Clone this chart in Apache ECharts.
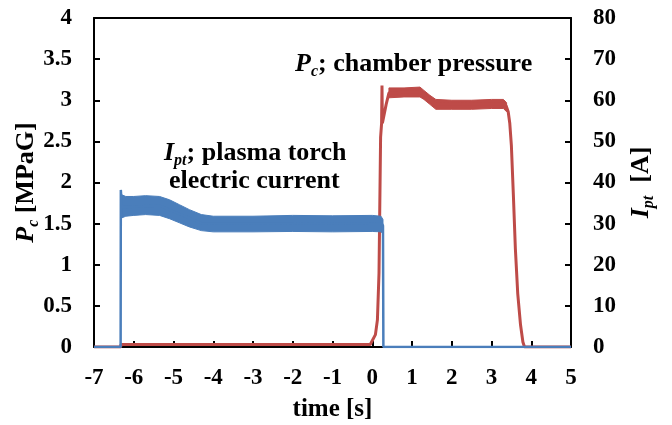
<!DOCTYPE html>
<html>
<head>
<meta charset="utf-8">
<script src="https://cdn.jsdelivr.net/npm/echarts@6/dist/echarts.min.js"></script>
<style>
html,body{margin:0;padding:0;background:#fff;}
#c{width:672px;height:425px;}
</style>
</head>
<body>
<div id="c"></div>
<script>
// ---- data ----
// time axis ticks
var xTicks = [-7, -6, -5, -4, -3, -2, -1, 0, 1, 2, 3, 4, 5];
// Chamber pressure P_c [MPaG] – centre trace
var redT = [-7, -6.33, -6.32, -3, -0.05, 0.0, 0.08, 0.13, 0.17, 0.21, 0.235, 0.245, 0.255, 0.29, 0.35, 0.42, 1.2, 1.3, 1.45, 1.6, 3.3, 3.37, 3.42, 3.46, 3.50, 3.55, 3.60, 3.66, 3.73, 3.79, 3.83, 5];
var redP = [0, 0, 0.03, 0.03, 0.03, 0.05, 0.15, 0.33, 0.9, 2.55, 2.72, 3.18, 2.72, 2.72, 2.95, 3.09, 3.1, 3.07, 3.0, 2.95, 2.955, 2.93, 2.86, 2.72, 2.45, 1.85, 1.2, 0.65, 0.27, 0.06, 0, 0];
// Chamber pressure noise envelope
var redBandT = [0.42, 0.8, 1.2, 1.3, 1.45, 1.6, 2.0, 2.5, 3.0, 3.3, 3.38];
var redLow   = [3.03, 3.04, 3.04, 3.01, 2.95, 2.89, 2.89, 2.89, 2.90, 2.90, 2.86];
var redHigh  = [3.15, 3.15, 3.16, 3.12, 3.06, 3.01, 3.00, 3.00, 3.01, 3.01, 2.97];
// Plasma torch current I_pt [A] – centre trace
var blueT = [-7, -6.33, -6.325, -6.30, -6.25, -5.35, -4.3, 0.24, 0.27, 0.28, 5];
var blueI = [0, 0, 38.2, 34.0, 34.4, 34.4, 30.1, 30.0, 29.5, 0, 0];
// Plasma torch current noise envelope
var blueBandT = [-6.30, -6.2, -6.0, -5.7, -5.35, -5.1, -4.85, -4.6, -4.3, -4.0, -3.0, -2.0, -1.0, 0.0, 0.22, 0.27];
var blueLow   = [31.4, 31.8, 32.0, 32.2, 32.0, 31.2, 30.2, 29.2, 28.3, 28.0, 28.0, 28.1, 28.0, 28.1, 28.0, 27.6];
var blueHigh  = [37.0, 36.6, 36.6, 36.8, 36.6, 35.8, 34.6, 33.4, 32.2, 31.8, 31.8, 32.0, 31.9, 32.0, 31.8, 31.0];

var RED = '#BE4B48', BLUE = '#4A7EBB';
var FF = 'Liberation Serif';

function pairs(xs, ys) { return xs.map(function (x, i) { return [x, ys[i]]; }); }

function bandSeries(ts, lo, hi, color, yIdx, z) {
  return {
    type: 'custom', yAxisIndex: yIdx, z: z, silent: true,
    data: ts.map(function (t, i) { return [t, lo[i], hi[i]]; }),
    encode: {x: 0, y: [1, 2]},
    renderItem: function (params, api) {
      if (params.dataIndex !== 0) return null;
      var pts = [];
      for (var i = 0; i < ts.length; i++) pts.push(api.coord([ts[i], hi[i]]));
      for (var j = ts.length - 1; j >= 0; j--) pts.push(api.coord([ts[j], lo[j]]));
      return {type: 'polygon', shape: {points: pts},
              style: {fill: color, stroke: color, lineWidth: 1}};
    }
  };
}

var tickFont = {fontFamily: FF, fontWeight: 'bold', fontSize: 23, color: '#000'};
var BIG = 26;
var rich = {
  i: {fontFamily: FF, fontWeight: 'bold', fontStyle: 'italic', fontSize: BIG, color: '#000', lineHeight: 32},
  s: {fontFamily: FF, fontWeight: 'bold', fontStyle: 'italic', fontSize: 16, color: '#000', lineHeight: 32, verticalAlign: 'bottom'},
  b: {fontFamily: FF, fontWeight: 'bold', fontSize: BIG, color: '#000', lineHeight: 32}
};

var chart = echarts.init(document.getElementById('c'), null, {renderer: 'canvas'});
var option = {
  animation: false,
  backgroundColor: '#fff',
  grid: {left: 94, right: 101, top: 18, bottom: 78, containLabel: false, outerBoundsMode: 'none'},
  xAxis: [{
    type: 'value', min: xTicks[0], max: xTicks[xTicks.length - 1], interval: 1,
    position: 'bottom',
    name: 'time [s]', nameLocation: 'middle', nameGap: 50, nameMoveOverlap: false,
    nameTextStyle: {fontFamily: FF, fontWeight: 'bold', fontSize: BIG - 1, color: '#000'},
    axisLine: {show: true, onZero: false, lineStyle: {color: '#000', width: 2}},
    axisTick: {show: true, inside: true, length: 6, lineStyle: {color: '#000', width: 2}},
    axisLabel: Object.assign({margin: 20}, tickFont),
    splitLine: {show: false}
  }, {
    type: 'value', min: xTicks[0], max: xTicks[xTicks.length - 1], interval: 1,
    position: 'top',
    axisLine: {show: true, onZero: false, lineStyle: {color: '#000', width: 2}},
    axisTick: {show: false}, axisLabel: {show: false}, splitLine: {show: false}
  }],
  yAxis: [{
    type: 'value', min: 0, max: 4, interval: 0.5, position: 'left',
    name: '{i|P}{s|c}{b| [MPaG]}', nameLocation: 'middle', nameGap: 52, nameRotate: 90, nameMoveOverlap: false,
    nameTextStyle: {rich: rich},
    axisLine: {show: true, onZero: false, lineStyle: {color: '#000', width: 2}},
    axisTick: {show: true, inside: true, length: 6, lineStyle: {color: '#000', width: 2}},
    axisLabel: Object.assign({margin: 22}, tickFont),
    splitLine: {show: false}
  }, {
    type: 'value', min: 0, max: 80, interval: 10, position: 'right',
    name: '{i|I}{s|pt}{b|  [A]}', nameLocation: 'middle', nameGap: 54, nameRotate: 90, nameMoveOverlap: false,
    nameTextStyle: {rich: rich},
    axisLine: {show: true, onZero: false, lineStyle: {color: '#000', width: 2}},
    axisTick: {show: true, inside: true, length: 6, lineStyle: {color: '#000', width: 2}},
    axisLabel: Object.assign({margin: 22}, tickFont),
    splitLine: {show: false}
  }],
  series: [
    bandSeries(redBandT, redLow, redHigh, RED, 0, 2),
    {type: 'line', name: 'Pc', yAxisIndex: 0, data: pairs(redT, redP),
     showSymbol: false, symbol: 'none', lineStyle: {color: RED, width: 3}, z: 3},
    bandSeries(blueBandT, blueLow, blueHigh, BLUE, 1, 4),
    {type: 'line', name: 'Ipt', yAxisIndex: 1, data: pairs(blueT, blueI),
     showSymbol: false, symbol: 'none', lineStyle: {color: BLUE, width: 2.5}, z: 5}
  ],
  graphic: [
    {type: 'text', left: 295, top: 51, z: 10,
     style: {text: '{i|P}{s|c}{b|; chamber pressure}', rich: rich}},
    {type: 'text', left: 164, top: 140, z: 10,
     style: {text: '{i|I}{s|pt}{b|; plasma torch}', rich: rich}},
    {type: 'text', left: 169, top: 168, z: 10,
     style: {text: '{b|electric current}', rich: rich}}
  ]
};
chart.setOption(option);
</script>
</body>
</html>
